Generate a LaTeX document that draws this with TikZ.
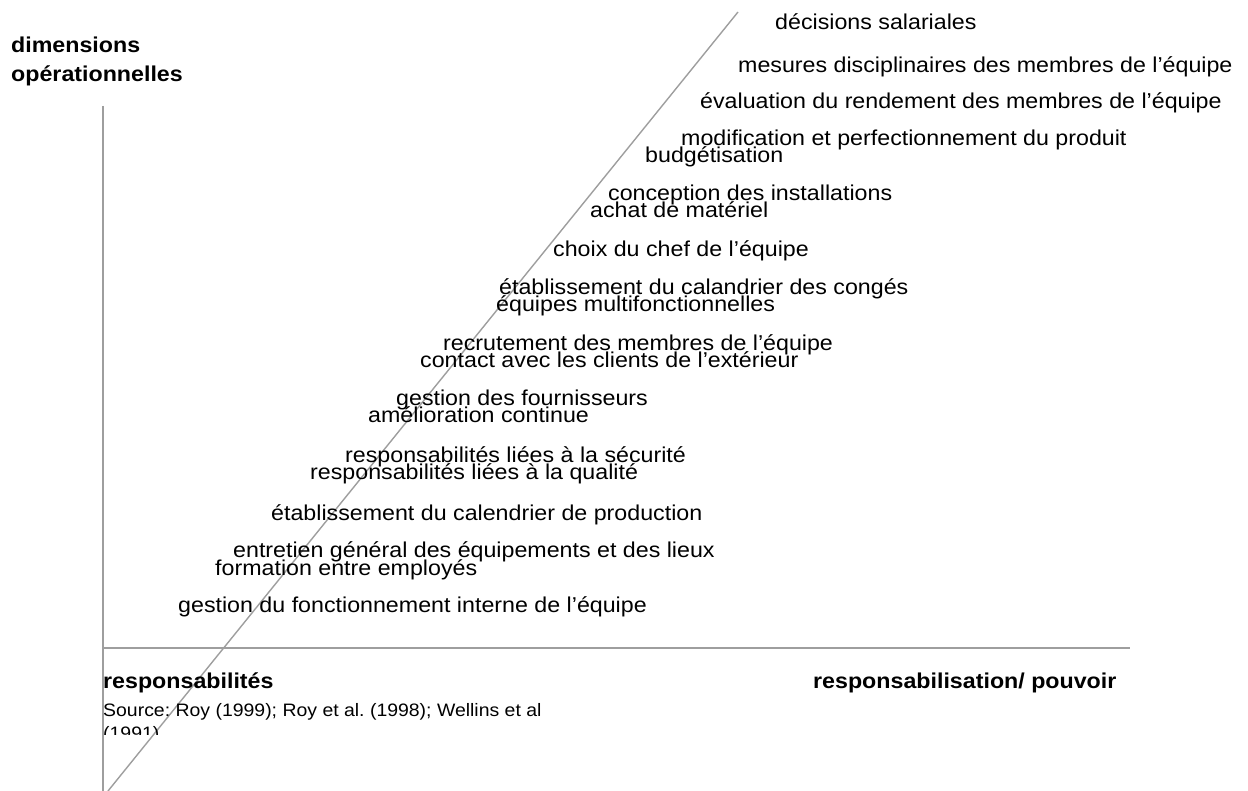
\documentclass[tikz,border=0pt]{standalone}
\usepackage{fontspec}
\setmainfont{Liberation Sans}
\newfontfamily\lblfont{Liberation Sans}[FakeStretch=1.08]
\frenchspacing
\begin{document}
\begin{tikzpicture}[x=1pt,y=-1pt,
  axis/.style={draw=black!38, line width=1.4pt},
  lbl/.style={anchor=base west, inner sep=0pt, font=\lblfont\fontsize{21.5}{20}\selectfont},
  ttl/.style={anchor=base west, inner sep=0pt, font=\lblfont\fontsize{21.5}{20}\selectfont\bfseries},
  src/.style={anchor=base west, inner sep=0pt, font=\lblfont\fontsize{18}{18}\selectfont}]
\useasboundingbox (0,0) rectangle (1248,791);
% axes
\coordinate (vtop) at (103,106);
\coordinate (vbot) at (103,791);
\coordinate (hleft) at (103,648);
\coordinate (hright) at (1130,648);
\coordinate (dbot) at (108,791);
\coordinate (dtop) at (738,12);
\draw[axis] (vtop) -- (vbot);
\draw[axis] (hleft) -- (hright);
\draw[axis] (dbot) -- (dtop);
% axis titles
\node[ttl] (ytitle1) at (11,53) {dimensions};
\node[ttl] (ytitle2) at (11,82) {opérationnelles};
\node[ttl] (xleft) at (103,688) {responsabilités};
\node[ttl] (xright) at (813,688) {responsabilisation/ pouvoir};
\begin{scope}
\clip (0,0) rectangle (1248,734);
\node[src] (source1) at (103,716) {Source: Roy (1999); Roy et al. (1998); Wellins et al};
\node[src] (source2) at (103,739) {(1991)};
\end{scope}
% labels
\node[lbl] (l1) at (775,30) {décisions salariales};
\node[lbl] (l2) at (738,73) {mesures disciplinaires des membres de l’équipe};
\node[lbl] (l3) at (700,109) {évaluation du rendement des membres de l’équipe};
\node[lbl] (l4) at (681,146) {modification et perfectionnement du produit};
\node[lbl] (l5) at (645,163) {budgétisation};
\node[lbl] (l6) at (608,201) {conception des installations};
\node[lbl] (l7) at (590,218) {achat de matériel};
\node[lbl] (l8) at (553,257) {choix du chef de l’équipe};
\node[lbl] (l9) at (499,295) {établissement du calandrier des congés};
\node[lbl] (l10) at (496,312) {équipes multifonctionnelles};
\node[lbl] (l11) at (443,351) {recrutement des membres de l’équipe};
\node[lbl] (l12) at (420,368) {contact avec les clients de l’extérieur};
\node[lbl] (l13) at (396,406) {gestion des fournisseurs};
\node[lbl] (l14) at (368,423) {amélioration continue};
\node[lbl] (l15) at (345,462) {responsabilités liées à la sécurité};
\node[lbl] (l16) at (310,479) {responsabilités liées à la qualité};
\node[lbl] (l17) at (271,520) {établissement du calendrier de production};
\node[lbl] (l18) at (233,557) {entretien général des équipements et des lieux};
\node[lbl] (l19) at (215,575) {formation entre employés};
\node[lbl] (l20) at (178,612) {gestion du fonctionnement interne de l’équipe};
\end{tikzpicture}
\end{document}
